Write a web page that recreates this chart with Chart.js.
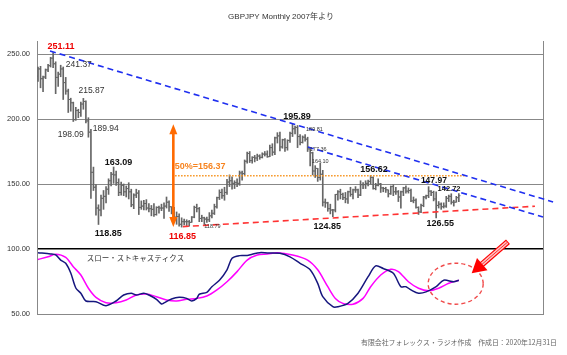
<!DOCTYPE html>
<html><head><meta charset="utf-8">
<script src="https://cdn.jsdelivr.net/npm/chart.js@4.4.1/dist/chart.umd.min.js"></script>
<style>html,body{margin:0;padding:0;background:#fff}canvas{display:block}</style>
</head><body>
<canvas id="c" width="567" height="355"></canvas>
<script>
// Monthly GBPJPY, Jan 2007 .. Dec 2020 (month index 0..167)
const opens = [
233.0,238.5,231.0,232.3,237.8,241.0,246.8,242.5,232.0,234.5,238.5,228.0,
221.5,215.0,212.5,199.5,206.5,205.0,211.5,213.5,198.5,189.9,159.0,147.5,
131.5,130.0,139.0,140.5,146.0,152.5,157.5,157.0,151.0,143.5,149.0,144.0,
146.5,144.0,134.0,141.5,143.0,132.0,133.0,135.0,131.5,131.0,130.5,126.5,
132.0,131.5,131.5,133.0,136.0,132.5,129.5,124.5,125.0,119.0,121.0,121.0,
121.0,120.5,124.5,132.0,131.0,123.5,124.0,123.0,122.5,125.5,127.5,132.5,
139.5,143.5,141.0,143.5,151.5,152.5,150.5,151.0,150.5,158.5,158.0,167.5,
173.5,168.0,170.5,170.0,171.5,170.5,173.0,173.0,171.0,178.0,174.5,185.5,
187.0,178.5,184.0,178.0,183.5,189.0,192.5,193.5,186.5,182.0,186.0,184.5,
177.0,174.0,160.0,162.0,155.0,157.5,136.0,135.5,131.0,130.0,130.0,142.0,
144.0,142.0,139.5,138.5,144.0,142.0,145.5,145.5,141.5,149.5,149.5,150.5,
152.0,155.0,146.5,149.0,150.0,147.0,146.5,145.5,142.5,148.0,144.0,144.0,
140.0,144.0,147.0,144.5,145.0,137.0,137.5,132.0,128.5,133.5,140.0,141.0,
144.5,143.5,138.5,133.5,134.5,132.5,133.0,139.0,140.5,136.0,136.0,139.5];
const highs = [
240.0,240.5,233.0,238.5,242.0,247.5,251.11,244.0,236.0,241.37,240.0,232.0,
223.0,216.0,213.0,209.0,207.5,213.0,215.87,214.0,201.0,192.0,163.0,149.5,
134.0,141.5,145.0,148.0,154.0,159.0,163.09,160.0,154.0,151.5,150.0,148.5,
151.0,146.0,142.5,146.0,145.0,137.0,137.5,138.0,135.0,133.5,135.0,132.5,
133.0,134.5,135.5,140.0,137.0,132.5,132.0,128.5,127.0,124.0,123.0,122.5,
122.0,125.0,133.0,134.5,132.0,126.0,124.5,124.5,128.0,130.0,134.5,140.0,
145.5,146.0,147.5,153.5,157.0,155.5,152.5,154.0,160.0,160.0,168.5,174.5,
175.0,171.0,172.0,173.0,172.5,174.0,175.0,175.5,180.0,181.0,186.0,189.5,
190.0,184.5,185.0,184.0,190.0,195.89,194.5,195.0,188.0,187.0,188.0,186.0,
178.0,174.5,164.1,162.0,166.0,160.5,138.5,136.0,134.5,130.5,142.0,145.0,
146.0,143.0,143.5,144.5,147.5,146.0,148.0,146.0,152.5,151.0,152.5,153.0,
156.62,155.5,150.5,154.0,150.5,147.5,147.5,145.5,148.5,149.5,147.5,145.0,
144.5,147.5,148.5,147.0,146.0,140.0,138.5,132.5,134.5,140.5,141.5,147.97,
145.0,144.5,144.0,136.5,135.5,135.5,140.5,141.5,142.5,137.5,140.5,142.72];
const lows = [
229.0,224.0,221.0,231.0,236.5,240.0,239.5,219.5,225.0,232.5,215.0,219.0,
205.0,206.0,198.09,199.0,201.0,202.0,207.5,197.0,186.0,139.0,145.0,126.0,
118.85,125.5,130.5,135.5,142.0,148.5,150.5,149.0,141.0,141.5,141.0,140.0,
138.5,132.5,131.0,139.5,126.5,130.5,130.0,130.0,128.5,125.5,125.0,126.0,
127.5,129.5,123.5,131.5,129.0,127.0,124.0,119.0,117.5,116.85,118.5,118.0,
117.5,120.5,124.0,128.5,121.0,121.0,118.79,120.5,121.0,124.0,126.5,131.5,
138.0,139.0,137.5,142.0,148.0,146.0,146.5,148.0,149.0,153.0,157.0,166.0,
166.5,166.0,167.0,168.0,169.0,170.0,171.5,170.5,171.0,172.0,172.5,181.5,
175.5,177.5,175.0,176.0,182.0,186.5,188.5,178.0,180.0,181.5,183.0,175.0,
164.0,157.0,155.0,152.0,153.0,133.0,132.0,129.0,127.0,124.85,128.5,137.5,
138.5,138.0,135.5,135.0,140.5,138.5,143.5,139.5,141.0,146.5,146.5,148.5,
150.0,146.0,145.5,148.5,143.5,144.0,143.5,140.0,142.0,141.0,142.0,136.5,
131.5,141.0,143.0,143.0,136.5,135.5,131.5,126.55,128.0,132.5,138.5,139.5,
141.0,137.0,124.0,131.5,130.5,131.5,132.0,136.5,134.5,133.0,136.0,136.5];
const closes = [
238.5,231.0,232.3,237.8,241.0,246.8,242.5,232.0,234.5,238.5,228.0,221.5,
215.0,212.5,199.5,206.5,205.0,211.5,213.5,198.5,189.9,159.0,147.5,131.5,
130.0,139.0,140.5,146.0,152.5,157.5,157.0,151.0,143.5,149.0,144.0,146.5,
144.0,134.0,141.5,143.0,132.0,133.0,135.0,131.5,131.0,130.5,126.5,132.0,
131.5,131.5,133.0,136.0,132.5,129.5,124.5,125.0,119.0,121.0,121.0,121.0,
120.5,124.5,132.0,131.0,123.5,124.0,123.0,122.5,125.5,127.5,132.5,139.5,
143.5,141.0,143.5,151.5,152.5,150.5,151.0,150.5,158.5,158.0,167.5,173.5,
168.0,170.5,170.0,171.5,170.5,173.0,173.0,171.0,178.0,174.5,185.5,187.0,
178.5,184.0,178.0,183.5,189.0,192.5,193.5,186.5,182.0,186.0,184.5,177.0,
174.0,160.0,162.0,155.0,157.5,136.0,135.5,131.0,130.0,130.0,142.0,144.0,
142.0,139.5,138.5,144.0,142.0,145.5,145.5,141.5,149.5,149.5,150.5,152.0,
155.0,146.5,149.0,150.0,147.0,146.5,145.5,142.5,148.0,144.0,144.0,140.0,
144.0,147.0,144.5,145.0,137.0,137.5,132.0,128.5,133.5,140.0,141.0,144.5,
143.5,138.5,133.5,134.5,132.5,133.0,139.0,140.5,136.0,136.0,139.5,141.0];

// Slow stochastic (as plotted on the 50-100 lower panel), sampled read points
const stochKMonths = [0,5,7,9,11,13,15,17,19,23,27,31,34,37,39,42,44,47,49,50,53,56,59,61,63,64,67,69,72,75,77,80,83,85,88,91,96,100,104,108,111,113,117,119,123,127,131,134,137,141,144,146,148,151,154,158,161,165,167];
const stochK = [97.2,96.2,95.4,91.5,89,81.5,70,66,60,59.5,56.4,60,64.6,66,64.6,66,64.6,61.3,57.7,58.5,61.5,62.8,62,60,62,65.2,66.7,71,76,84,92.8,94.9,95,96,97.2,97,96.7,94,89,84,73.6,63.3,55.6,55.6,58.2,66,78.7,87,85,81.3,71,71,68.5,66,67,71,76,74.8,76];
const stochDMonths = [0,4,7,11,14,17,20,23,27,31,35,39,43,47,51,55,59,63,67,71,75,79,83,87,91,95,101,107,111,115,118,121,125,129,132,136,140,143,147,151,155,159,163,167];
const stochD = [92,94,96,93.6,86.4,80,69.8,62.8,58.7,58.7,60.8,64.6,65.4,63.3,60.8,60,61.3,62,63.8,68.5,74.8,82.6,91.5,95.4,96.2,97.2,95.4,91.5,84,71,62,58.2,57.5,62,71,80,84.4,82.6,74.8,69.8,67.9,69.8,73.6,76];

// Trend lines (month index, price)
const upperTrend = [[4.76,252.3],[204.4,136.2]];
const lowerTrend = [[107.1,178.5],[200.4,124.6]];
const supportTrend = [[57.5,117.2],[197.2,132.9]];
const halfLevel = 156.37;
const halfRange = [54.4,169.4];
const yTicks = [50,100,150,200,250];

const N = closes.length;
const hl = [], op = [], cl = [];
for (let i=0;i<N;i++){ hl.push({x:i,y:[lows[i],highs[i]]}); op.push({x:i,y:opens[i]}); cl.push({x:i,y:closes[i]}); }
const toXY = (ms, vs) => ms.map((m,i)=>({x:m,y:vs[i]}));
const pts = a => a.map(p=>({x:p[0],y:p[1]}));

const NUM = "'Liberation Sans', Arial, sans-serif";
const JP = "'Noto Sans CJK JP', sans-serif";
const labels = [
  {t:'251.11',m:9.13,p:255.6,c:'#ee0000',f:'bold 9px '+NUM},
  {t:'241.37',m:16.2,p:242.1,c:'#333',f:'8.5px '+NUM},
  {t:'215.87',m:21.2,p:221.8,c:'#333',f:'8.5px '+NUM},
  {t:'198.09',m:13.0,p:188.2,c:'#333',f:'8.5px '+NUM},
  {t:'189.94',m:26.9,p:192.8,c:'#333',f:'8.5px '+NUM},
  {t:'163.09',m:31.9,p:166.4,c:'#111',f:'bold 9px '+NUM},
  {t:'118.85',m:27.9,p:112.1,c:'#111',f:'bold 9px '+NUM},
  {t:'116.85',m:57.3,p:109.5,c:'#ee0000',f:'bold 9px '+NUM},
  {t:'50%=156.37',m:64.3,p:163.8,c:'#f7831e',f:'bold 9px '+NUM},
  {t:'118.79',m:69.2,p:117.7,c:'#333',f:'5.5px '+NUM},
  {t:'195.89',m:102.8,p:201.8,c:'#111',f:'bold 9px '+NUM},
  {t:'189.81',m:109.7,p:192.1,c:'#333',f:'5.5px '+NUM},
  {t:'177.36',m:111.2,p:176.7,c:'#333',f:'5.5px '+NUM},
  {t:'164.10',m:112.0,p:167.5,c:'#333',f:'5.5px '+NUM},
  {t:'124.85',m:114.8,p:117.2,c:'#111',f:'bold 9px '+NUM},
  {t:'156.62',m:133.3,p:161.3,c:'#111',f:'bold 9px '+NUM},
  {t:'147.97',m:157.1,p:152.5,c:'#111',f:'bold 8.5px '+NUM},
  {t:'142.72',m:163.1,p:145.9,c:'#111',f:'bold 7.5px '+NUM},
  {t:'126.55',m:159.6,p:119.8,c:'#111',f:'bold 9px '+NUM},
  {t:'スロー・ストキャスティクス',m:38.7,p:93.1,c:'#333',f:'7.5px '+JP}
];

const overlay = {
  id:'overlay',
  afterDatasetsDraw(chart){
    const {ctx} = chart; const x = chart.scales.x, y = chart.scales.y;
    ctx.save();
    // orange double arrow 195.89 -> 116.85
    const ax = x.getPixelForValue(53.7), ay1 = y.getPixelForValue(195.89), ay2 = y.getPixelForValue(116.85);
    ctx.strokeStyle = '#ff6a00'; ctx.fillStyle = '#ff6a00'; ctx.lineWidth = 2.6;
    ctx.beginPath(); ctx.moveTo(ax, ay1+8); ctx.lineTo(ax, ay2-8); ctx.stroke();
    ctx.beginPath(); ctx.moveTo(ax, ay1); ctx.lineTo(ax-4, ay1+10); ctx.lineTo(ax+4, ay1+10); ctx.closePath(); ctx.fill();
    ctx.beginPath(); ctx.moveTo(ax, ay2); ctx.lineTo(ax-4, ay2-10); ctx.lineTo(ax+4, ay2-10); ctx.closePath(); ctx.fill();
    // dashed ellipse
    const ex = x.getPixelForValue(165.75), ey = y.getPixelForValue(73.3);
    ctx.setLineDash([4,3]); ctx.strokeStyle = '#f04a4a'; ctx.lineWidth = 1.4;
    ctx.beginPath(); ctx.ellipse(ex, ey, 27.5, 20.5, 0, 0, Math.PI*2); ctx.stroke();
    ctx.setLineDash([]);
    // red arrow
    const tx = x.getPixelForValue(186.5), ty = y.getPixelForValue(105.6);
    const hx = x.getPixelForValue(172.1), hy = y.getPixelForValue(81.3);
    const dx = hx-tx, dy = hy-ty, L = Math.hypot(dx,dy), ux = dx/L, uy = dy/L;
    const bx = hx - ux*14, by = hy - uy*14;
    ctx.lineCap = 'butt';
    ctx.strokeStyle = '#ff0000'; ctx.lineWidth = 6;
    ctx.beginPath(); ctx.moveTo(tx,ty); ctx.lineTo(bx+ux*2,by+uy*2); ctx.stroke();
    ctx.strokeStyle = '#ffc4c4'; ctx.lineWidth = 3.6;
    ctx.beginPath(); ctx.moveTo(tx+ux*1,ty+uy*1); ctx.lineTo(bx+ux*2,by+uy*2); ctx.stroke();
    ctx.strokeStyle = '#ff3030'; ctx.lineWidth = 1;
    ctx.beginPath(); ctx.moveTo(tx+ux*1,ty+uy*1); ctx.lineTo(bx+ux*2,by+uy*2); ctx.stroke();
    ctx.fillStyle = '#ff0000';
    ctx.beginPath(); ctx.moveTo(hx,hy); ctx.lineTo(bx - uy*8, by + ux*8); ctx.lineTo(bx + uy*8, by - ux*8); ctx.closePath(); ctx.fill();
    // text labels
    ctx.textAlign = 'center'; ctx.textBaseline = 'middle';
    labels.forEach(l=>{ ctx.font = l.f; ctx.fillStyle = l.c; ctx.fillText(l.t, x.getPixelForValue(l.m), y.getPixelForValue(l.p)); });
    // title
    ctx.font = "8px 'Liberation Sans', Arial, 'Noto Sans CJK JP', sans-serif"; ctx.fillStyle = '#333';
    ctx.fillText('GBPJPY Monthly 2007年より', 281, 16.5);
    // footer
    ctx.font = '6.9px '+JP; ctx.fillStyle = '#666'; ctx.textAlign = 'right';
    ctx.fillText('有限会社フォレックス・ラジオ作成　作成日：2020年12月31日', chart.width-10, chart.height-13);
    ctx.restore();
  }
};

new Chart(document.getElementById('c'), {
  type:'bar',
  data:{ datasets:[
    {type:'line', data:pts(upperTrend), borderColor:'#1f2ff0', borderWidth:1.6, borderDash:[6,4], pointRadius:0, clip:false, order:1},
    {type:'line', data:pts(lowerTrend), borderColor:'#1f2ff0', borderWidth:1.6, borderDash:[6,4], pointRadius:0, clip:false, order:1},
    {type:'line', data:pts(supportTrend), borderColor:'#ff3333', borderWidth:1.6, borderDash:[6,4], pointRadius:0, clip:false, order:1},
    {type:'line', data:[{x:halfRange[0],y:halfLevel},{x:halfRange[1],y:halfLevel}], borderColor:'#f7931e', borderWidth:1.4, borderDash:[1.5,1.5], pointRadius:0, order:2},
    {type:'line', data:toXY(stochDMonths, stochD), borderColor:'#ff00ff', borderWidth:1.5, pointRadius:0, tension:0.3, order:5},
    {type:'line', data:toXY(stochKMonths, stochK), borderColor:'#16167e', borderWidth:1.5, pointRadius:0, tension:0.3, order:4},
    {type:'line', data:op, showLine:false, pointStyle:'dash', pointRotation:180, pointRadius:1.6, pointBorderWidth:1, pointBorderColor:'#666', order:9},
    {type:'line', data:cl, showLine:false, pointStyle:'dash', pointRotation:0, pointRadius:1.6, pointBorderWidth:1, pointBorderColor:'#666', order:9},
    {type:'bar', data:hl, backgroundColor:'#666', barThickness:1, order:10}
  ]},
  options:{
    responsive:false, animation:false, devicePixelRatio:1,
    layout:{autoPadding:false, padding:{left:0, right:24, top:41, bottom:41}},
    plugins:{ legend:{display:false}, tooltip:{enabled:false}, title:{display:false} },
    scales:{
      x:{type:'linear', offset:false, min:-0.4, max:200.4, grid:{display:false, offset:false}, ticks:{display:false}, border:{display:true, color:'#888'}, afterFit(s){ s.height = 0; }},
      y:{type:'linear', min:50, max:260, position:'left',
         afterBuildTicks(s){ s.ticks = yTicks.map(v=>({value:v})); },
         afterFit(s){ s.width = 37; },
         ticks:{padding:7, color:'#333', font:{size:7.5, family:NUM}, callback:v=>Number(v).toFixed(2)},
         grid:{drawTicks:false, color:c=> c.tick.value===100 ? '#000' : (c.tick.value===50 ? 'rgba(0,0,0,0)' : '#888'), lineWidth:c=> c.tick.value===100 ? 1.6 : 1},
         border:{display:true, color:'#888'}},
      yR:{type:'linear', min:50, max:260, position:'right', grid:{display:false}, ticks:{display:false}, border:{display:true, color:'#888'}, afterFit(s){ s.width = 0; }}
    }
  },
  plugins:[overlay]
});
</script>
</body></html>
